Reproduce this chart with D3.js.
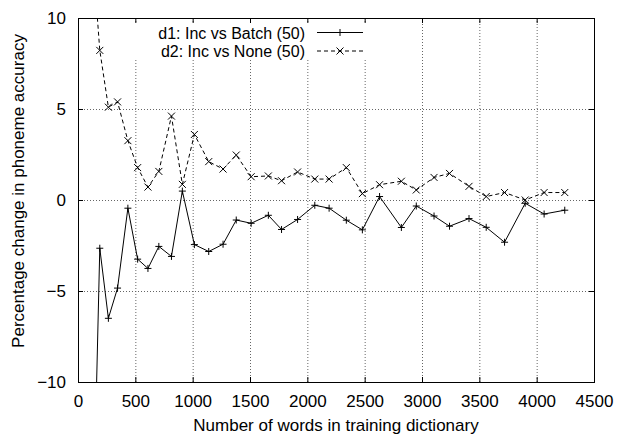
<!DOCTYPE html>
<html>
<head>
<meta charset="utf-8">
<script src="https://cdn.jsdelivr.net/npm/d3@7"></script>
<style>
  body { margin: 0; background: #fff; }
  text { font-family: "Liberation Sans", Arial, sans-serif; fill: #000; }
</style>
</head>
<body>
<div id="chart"></div>
<script>
var svgWidth = 625;
var svgHeight = 436;

var margin = { top: 18, bottom: 54, left: 78, right: 31 };

var width = svgWidth - margin.left - margin.right;
var height = svgHeight - margin.top - margin.bottom;

// data
var words = [110, 190, 265, 345, 435, 520, 610, 705, 815, 910, 1015, 1140, 1265, 1380, 1510,
  1660, 1775, 1915, 2065, 2190, 2340, 2480, 2630, 2820, 2950, 3105, 3240, 3410, 3560, 3720,
  3900, 4065, 4245];
var incVsBatch = [-24, -2.65, -6.5, -4.84, -0.45, -3.25, -3.76, -2.55, -3.1, 0.49, -2.45, -2.83,
  -2.43, -1.1, -1.28, -0.84, -1.62, -1.07, -0.29, -0.45, -1.11, -1.64, 0.19, -1.51, -0.33,
  -0.88, -1.44, -1.02, -1.5, -2.32, -0.18, -0.77, -0.56];
var incVsNone = [15, 8.22, 5.1, 5.39, 3.26, 1.78, 0.71, 1.57, 4.61, 0.86, 3.6, 2.11, 1.7, 2.47,
  1.28, 1.32, 1.06, 1.54, 1.15, 1.15, 1.78, 0.35, 0.84, 1.03, 0.55, 1.24, 1.46, 0.75, 0.19,
  0.41, 0.0, 0.41, 0.41];
var seriesNames = ["d1: Inc vs Batch (50)", "d2: Inc vs None (50)"];
var xTicks = [0, 500, 1000, 1500, 2000, 2500, 3000, 3500, 4000, 4500];
var yTicks = [-10, -5, 0, 5, 10];

var fontSize = "17px";

var svg = d3.select("#chart")
  .append("svg")
  .attr("width", svgWidth)
  .attr("height", svgHeight);

var chartGroup = svg.append("g")
  .attr("transform", `translate(${margin.left}, ${margin.top})`);

var xScale = d3.scaleLinear().domain([0, 4500]).range([0, width]);
var yScale = d3.scaleLinear().domain([-10, 10]).range([height, 0]);

// grid
chartGroup.append("g")
  .selectAll("line.vgrid")
  .data(xTicks.slice(1, -1))
  .enter()
  .append("line")
  .attr("x1", d => xScale(d) + 0.5).attr("x2", d => xScale(d) + 0.5)
  .attr("y1", 0).attr("y2", height)
  .attr("stroke", "#666").attr("stroke-dasharray", "1,2");
chartGroup.append("g")
  .selectAll("line.hgrid")
  .data(yTicks.slice(1, -1))
  .enter()
  .append("line")
  .attr("y1", d => Math.round(yScale(d)) + 0.5).attr("y2", d => Math.round(yScale(d)) + 0.5)
  .attr("x1", 0).attr("x2", width)
  .attr("stroke", "#666").attr("stroke-dasharray", "1,2");

// axes, ticks inward and mirrored
var tickLen = 5;
var bottomAxis = d3.axisBottom(xScale).tickValues(xTicks).tickFormat(d3.format("d"))
  .tickSizeInner(-tickLen).tickSizeOuter(0).tickPadding(13);
var topAxis = d3.axisTop(xScale).tickValues(xTicks).tickSizeInner(-tickLen).tickSizeOuter(0).tickFormat("");
var leftAxis = d3.axisLeft(yScale).tickValues(yTicks).tickFormat(d3.format("d"))
  .tickSizeInner(-tickLen).tickSizeOuter(0).tickPadding(12);
var rightAxis = d3.axisRight(yScale).tickValues(yTicks).tickSizeInner(-tickLen).tickSizeOuter(0).tickFormat("");

chartGroup.append("g").attr("class", "axis").attr("transform", `translate(0,${height})`).call(bottomAxis);
chartGroup.append("g").attr("class", "axis").call(topAxis);
chartGroup.append("g").attr("class", "axis").call(leftAxis);
chartGroup.append("g").attr("class", "axis").attr("transform", `translate(${width},0)`).call(rightAxis);

chartGroup.selectAll(".axis path").remove();
chartGroup.selectAll(".axis line").attr("stroke", "#000");
chartGroup.selectAll(".axis text")
  .style("font-size", fontSize)
  .style("font-family", "Liberation Sans, Arial, sans-serif");

// legend box hides grid behind key
chartGroup.append("rect")
  .attr("x", 50).attr("y", 5)
  .attr("width", 244).attr("height", 35)
  .attr("fill", "#fff");

// frame
chartGroup.append("rect")
  .attr("x", 0.5).attr("y", 0.5)
  .attr("width", width).attr("height", height)
  .attr("fill", "none").attr("stroke", "#000");

// clip
chartGroup.append("clipPath").attr("id", "plotClip")
  .append("rect").attr("width", width).attr("height", height);

var series = [
  { values: incVsBatch, dash: null, marker: "plus" },
  { values: incVsNone, dash: "4,3", marker: "cross" }
];

var line = d3.line()
  .x(d => xScale(d[0]))
  .y(d => yScale(d[1]));

function markerPath(type, x, y) {
  var s = 3.5;
  if (type === "plus") {
    return `M${x - s},${y}L${x + s},${y}M${x},${y - s}L${x},${y + s}`;
  }
  return `M${x - s},${y - s}L${x + s},${y + s}M${x - s},${y + s}L${x + s},${y - s}`;
}

var plotGroup = chartGroup.append("g").attr("clip-path", "url(#plotClip)");

series.forEach(function (s) {
  var pts = words.map((w, i) => [w, s.values[i]]);
  plotGroup.append("path")
    .datum(pts)
    .attr("d", line)
    .attr("fill", "none")
    .attr("stroke", "#000")
    .attr("stroke-width", 1)
    .attr("stroke-dasharray", s.dash);
  plotGroup.selectAll(null)
    .data(pts)
    .enter()
    .append("path")
    .attr("d", d => markerPath(s.marker, xScale(d[0]), yScale(d[1])))
    .attr("stroke", "#000")
    .attr("stroke-width", 1)
    .attr("fill", "none");
});

// legend
var legend = svg.append("g");
series.forEach(function (s, i) {
  var ly = 32.5 + i * 18.5;
  legend.append("text")
    .attr("x", 305).attr("y", ly + 6)
    .attr("text-anchor", "end")
    .style("font-size", "16px")
    .text(seriesNames[i]);
  legend.append("line")
    .attr("x1", 317).attr("x2", 363)
    .attr("y1", ly).attr("y2", ly)
    .attr("stroke", "#000")
    .attr("stroke-dasharray", s.dash);
  legend.append("path")
    .attr("d", markerPath(s.marker, 340, ly))
    .attr("stroke", "#000");
});

// axis labels
svg.append("text")
  .attr("transform", "translate(18, 191) rotate(-90)")
  .attr("text-anchor", "middle")
  .attr("dy", "0.35em")
  .style("font-size", fontSize)
  .text("Percentage change in phoneme accuracy");

svg.append("text")
  .attr("x", margin.left + width / 2)
  .attr("y", 431)
  .attr("text-anchor", "middle")
  .style("font-size", fontSize)
  .text("Number of words in training dictionary");
</script>
</body>
</html>
